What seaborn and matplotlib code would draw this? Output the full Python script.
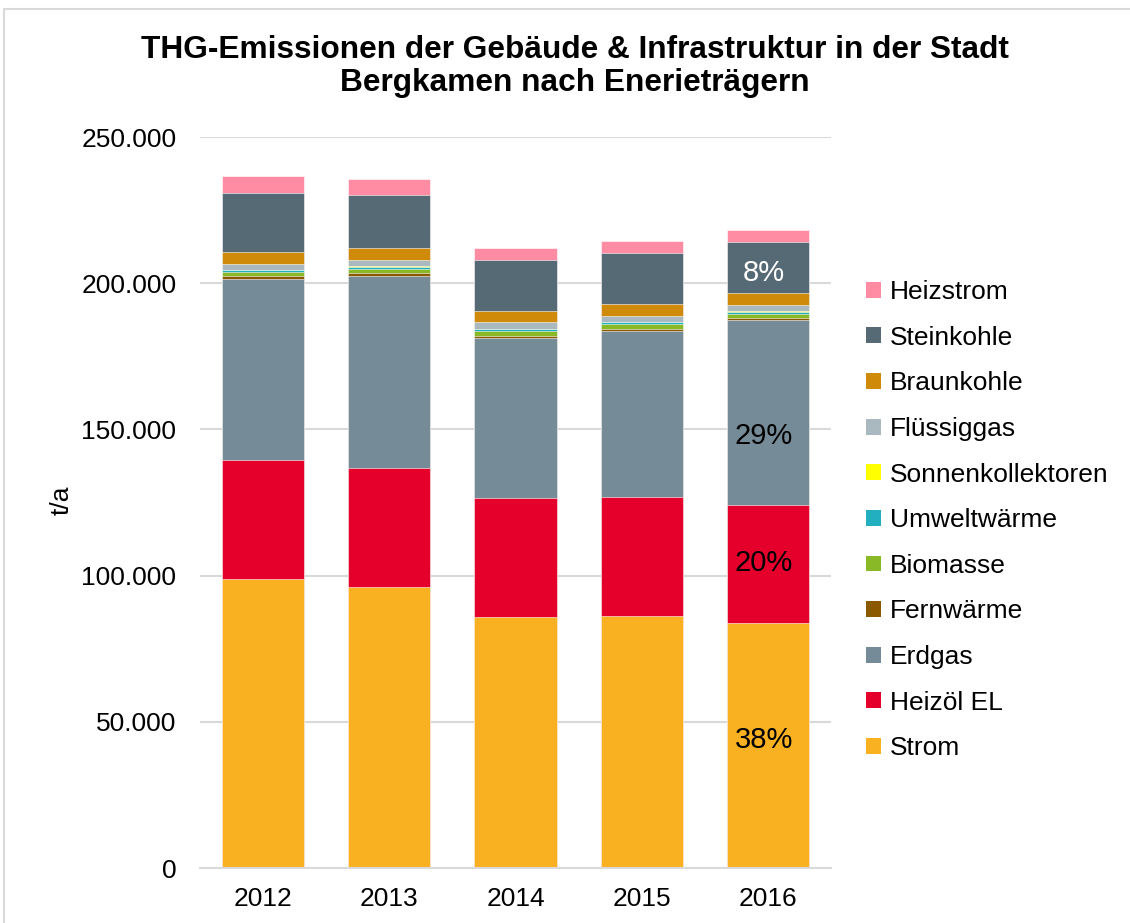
import matplotlib
matplotlib.use("Agg")
import matplotlib.pyplot as plt
import seaborn as sns
import pandas as pd
import numpy as np
from matplotlib.patches import Patch
from matplotlib.lines import Line2D
from matplotlib.ticker import FuncFormatter, MultipleLocator

years = ["2012", "2013", "2014", "2015", "2016"]
series = ["Strom", "Heizöl EL", "Erdgas", "Fernwärme", "Biomasse", "Umweltwärme",
          "Sonnenkollektoren", "Flüssiggas", "Braunkohle", "Steinkohle", "Heizstrom"]

strom = [98800, 96100, 85800, 86200, 83800]
heizoel = [40700, 40800, 40700, 40700, 40200]
erdgas = [61900, 65600, 54700, 56900, 63400]
fernwaerme = [1100, 1100, 900, 700, 800]
biomasse = [1500, 1300, 1400, 1500, 1300]
umweltwaerme = [350, 800, 700, 700, 700]
sonnenkollektoren = [150, 200, 200, 200, 200]
fluessiggas = [2100, 2200, 2200, 2000, 2000]
braunkohle = [4000, 4100, 4000, 4100, 4300]
steinkohle = [20300, 17900, 17200, 17200, 17300]
heizstrom = [5900, 5700, 4300, 4400, 4300]

values = [strom, heizoel, erdgas, fernwaerme, biomasse, umweltwaerme,
          sonnenkollektoren, fluessiggas, braunkohle, steinkohle, heizstrom]

colors = ["#F9B122", "#E4002B", "#758C98", "#8B5A00", "#8AB928", "#22AFC0",
          "#FFFF00", "#AAB8BF", "#CE8A08", "#556A75", "#FF8CA3"]

# percentage labels shown on the 2016 bar
pct_series = ["Strom", "Heizöl EL", "Erdgas", "Steinkohle"]
pct_labels = ["38%", "20%", "29%", "8%"]
pct_colors = ["black", "black", "black", "white"]
pct_offsets_pt = [4, 1, -17, -4]

sns.set_theme(style="white")
plt.rcParams["font.family"] = ["Liberation Sans", "DejaVu Sans"]
plt.rcParams["text.color"] = "black"

W, H = 1130, 923
fig = plt.figure(figsize=(W / 100, H / 100), dpi=100)
ax = fig.add_axes([200 / W, 1 - 868 / H, 631 / W, 731 / H])

arr = np.array(values, dtype=float)
cum = np.cumsum(arr, axis=0)

# draw cumulative bars from tallest to shortest so that each layer shows
for i in range(len(series) - 1, -1, -1):
    df = pd.DataFrame({"Jahr": years, "Wert": cum[i]})
    sns.barplot(data=df, x="Jahr", y="Wert", color=colors[i], width=0.65,
                saturation=1, ax=ax, edgecolor="white", linewidth=0.4,
                zorder=2)

ax.set_xlim(-0.5, 4.5)
ax.set_ylim(0, 250000)
ax.yaxis.set_major_locator(MultipleLocator(50000))
ax.yaxis.set_major_formatter(FuncFormatter(lambda v, p: f"{int(v):,}".replace(",", ".")))
ax.grid(axis="y", color="#D9D9D9", linewidth=1.5, zorder=0)
ax.set_axisbelow(True)
for s in ["left", "right", "top"]:
    ax.spines[s].set_visible(False)
ax.spines["bottom"].set_color("#D9D9D9")
ax.spines["bottom"].set_linewidth(1.5)
ax.tick_params(axis="both", length=0, labelsize=19, colors="black")
ax.tick_params(axis="y", pad=17)
ax.tick_params(axis="x", pad=14)
ax.set_xlabel("")
ax.set_ylabel("")

# percentage labels on last bar
last = len(years) - 1
for name, txt, col, off in zip(pct_series, pct_labels, pct_colors, pct_offsets_pt):
    i = series.index(name)
    bottom = cum[i - 1][last] if i > 0 else 0
    ymid = bottom + arr[i][last] / 2
    ax.annotate(txt, (last, ymid), xytext=(-3, off), textcoords="offset points",
                ha="center", va="center", fontsize=21, color=col, zorder=5)

fig.text(62 / W, 1 - 500 / H, "t/a", rotation=90, ha="center", va="center",
         fontsize=19, color="black")
fig.text(575 / W, 1 - 66.5 / H,
         "THG-Emissionen der Gebäude & Infrastruktur in der Stadt\nBergkamen nach Enerieträgern",
         ha="center", va="center", fontsize=22.8, fontweight="bold", linespacing=1.15,
         color="black")

handles = [Patch(facecolor=colors[i], edgecolor="none", label=series[i])
           for i in range(len(series) - 1, -1, -1)]
fig.legend(handles=handles, loc="upper left", bbox_to_anchor=(866 / W, 1 - 280 / H),
           frameon=False, fontsize=19, handlelength=0.55, handleheight=0.55,
           handletextpad=0.35, labelspacing=0.82, borderaxespad=0, borderpad=0)

# light frame (left and top edges visible in the reference)
fig.add_artist(Line2D([4 / W, 4 / W], [0, 1 - 9 / H], transform=fig.transFigure,
                      color="#D9D9D9", linewidth=1.5))
fig.add_artist(Line2D([4 / W, 1], [1 - 9 / H, 1 - 9 / H], transform=fig.transFigure,
                      color="#D9D9D9", linewidth=1.5))

fig.savefig("out.png", dpi=100)
